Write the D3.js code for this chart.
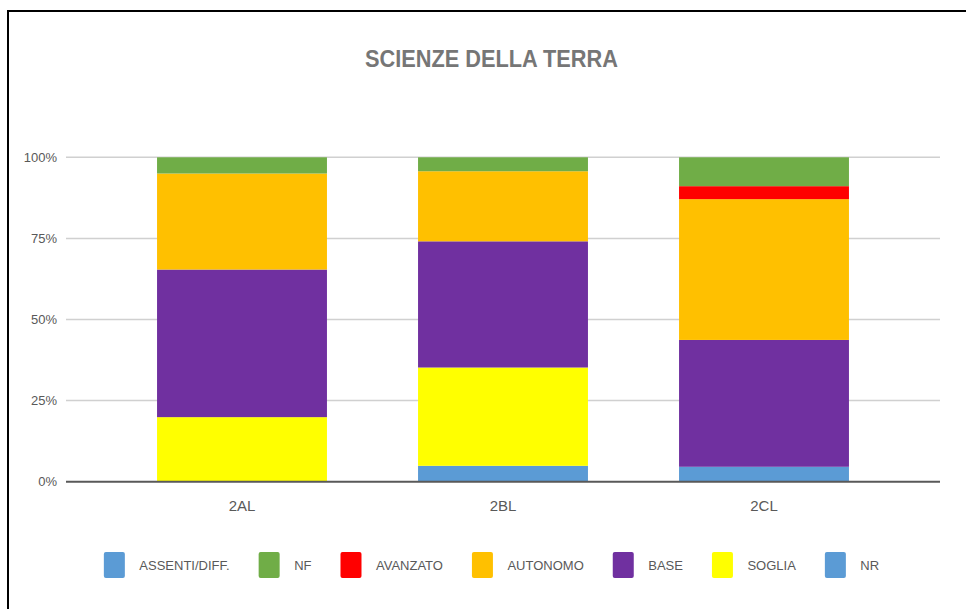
<!DOCTYPE html>
<html>
<head>
<meta charset="utf-8">
<script src="https://cdn.jsdelivr.net/npm/d3@7"></script>
<style>
  body { margin: 0; background: #fff; }
  svg { display: block; }
</style>
</head>
<body>
<div id="chart"></div>
<script>
// data (percent of class), stack order bottom -> top
var categories = ["2AL", "2BL", "2CL"];
var nr       = [0,    4.9,  4.6];
var soglia   = [19.9, 30.3, 0];
var base     = [45.5, 38.9, 39.1];
var autonomo = [29.6, 21.6, 43.4];
var avanzato = [0,    0,    4.0];
var nf       = [5.0,  4.3,  8.9];
var assenti  = [0,    0,    0];
var yTicks = [0, 25, 50, 75, 100];

var seriesNames = ["NR", "SOGLIA", "BASE", "AUTONOMO", "AVANZATO", "NF", "ASSENTI/DIFF."];
var seriesValues = [nr, soglia, base, autonomo, avanzato, nf, assenti];
var colors = ["#5b9bd5", "#ffff00", "#7030a0", "#ffc000", "#ff0000", "#70ad47", "#5b9bd5"];

var W = 966, H = 609;
var font = "'Liberation Sans', Arial, sans-serif";

var svg = d3.select("#chart").append("svg")
	.attr("width", W)
	.attr("height", H);

// outer frame (only top + left visible in the picture)
svg.append("rect")
	.attr("x", 8).attr("y", 11)
	.attr("width", 1000).attr("height", 700)
	.attr("fill", "none")
	.attr("stroke", "#000")
	.attr("stroke-width", 2);

svg.append("text")
	.attr("x", 491.5)
	.attr("y", 67)
	.attr("text-anchor", "middle")
	.attr("textLength", 253)
	.attr("lengthAdjust", "spacingAndGlyphs")
	.style("font-family", font)
	.style("font-size", "24px")
	.style("font-weight", "bold")
	.attr("fill", "#767676")
	.text("SCIENZE DELLA TERRA");

var x = d3.scaleBand()
	.domain(categories)
	.range([111.5, 894.5])
	.paddingInner(0.349)
	.paddingOuter(0.1745);

var y = d3.scaleLinear()
	.domain([0, 100])
	.range([481.7, 157.3]);

// gridlines
svg.append("g")
	.selectAll("line")
	.data(yTicks.filter(d => d > 0))
	.enter()
	.append("line")
	.attr("x1", 66).attr("x2", 940)
	.attr("y1", d => y(d)).attr("y2", d => y(d))
	.attr("stroke", "#d0d0d0")
	.attr("stroke-width", 1.5);

// y labels
var yAxis = svg.append("g")
	.attr("transform", "translate(66,0)")
	.call(d3.axisLeft(y).tickValues(yTicks).tickFormat(d => d + "%").tickSize(0).tickPadding(9));
yAxis.select(".domain").remove();
yAxis.selectAll("text")
	.style("font-family", font)
	.style("font-size", "13px")
	.attr("fill", "#595959");

// stacked bars
var rows = categories.map(function(c, i) {
	var r = { cat: c };
	seriesNames.forEach(function(s, k) { r[s] = seriesValues[k][i]; });
	return r;
});
var stacked = d3.stack().keys(seriesNames)(rows);

svg.append("g")
	.selectAll("g")
	.data(stacked)
	.enter()
	.append("g")
	.attr("fill", (d, i) => colors[i])
	.selectAll("rect")
	.data(d => d)
	.enter()
	.append("rect")
	.attr("x", d => x(d.data.cat))
	.attr("width", x.bandwidth())
	.attr("y", d => y(d[1]))
	.attr("height", d => y(d[0]) - y(d[1]));

// baseline
svg.append("line")
	.attr("x1", 66).attr("x2", 940)
	.attr("y1", y(0)).attr("y2", y(0))
	.attr("stroke", "#595959")
	.attr("stroke-width", 2);

// x labels
var xAxis = svg.append("g")
	.attr("transform", "translate(0," + y(0) + ")")
	.call(d3.axisBottom(x).tickSize(0).tickPadding(19));
xAxis.select(".domain").remove();
xAxis.selectAll("text")
	.style("font-family", font)
	.style("font-size", "15px")
	.attr("fill", "#595959");

// legend (reverse of stack order, as in the original)
var legendOrder = seriesNames.map((s, i) => i).reverse();
var legend = svg.append("g");
var items = legend.selectAll("g")
	.data(legendOrder)
	.enter()
	.append("g");
items.append("rect")
	.attr("x", 0).attr("y", 552)
	.attr("width", 21).attr("height", 26)
	.attr("rx", 2)
	.attr("fill", i => colors[i]);
items.append("text")
	.attr("x", 35.5)
	.attr("y", 570)
	.style("font-family", font)
	.style("font-size", "13px")
	.attr("fill", "#595959")
	.text(i => seriesNames[i]);

var offsets = [];
var pos = 0;
items.each(function() {
	offsets.push(pos);
	var w = d3.select(this).select("text").node().getComputedTextLength();
	pos += 35.5 + w + 29;
});
var total = pos - 29;
var start = 491.5 - total / 2;
items.attr("transform", (d, i) => "translate(" + (start + offsets[i]) + ",0)");
</script>
</body>
</html>
